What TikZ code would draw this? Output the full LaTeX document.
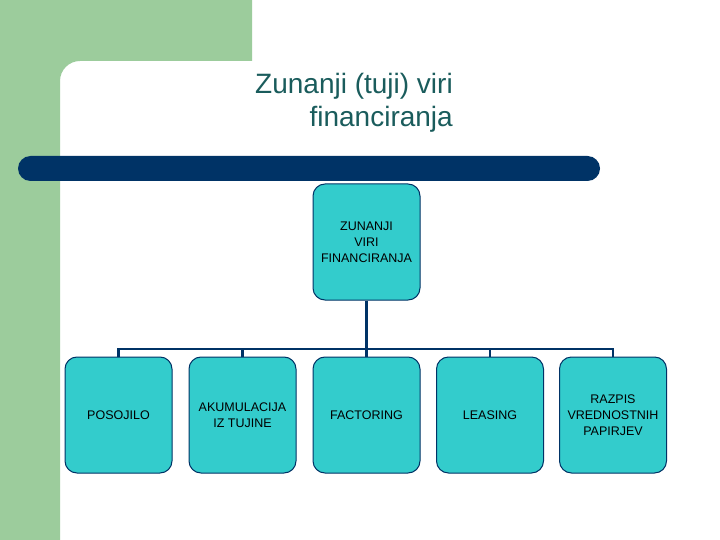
\documentclass[tikz,border=0pt]{standalone}
\usepackage{fontspec}
\setmainfont{Liberation Sans}
\definecolor{gr}{HTML}{9CCC9C}
\definecolor{navy}{HTML}{003366}
\definecolor{teal}{HTML}{33CCCC}
\definecolor{tt}{HTML}{1A5C5C}
\begin{document}
\begin{tikzpicture}[x=1pt,y=-1pt,
 box/.style={draw=navy,line width=1pt,fill=teal,rounded corners=12pt,minimum width=107pt,minimum height=116pt,align=center,inner sep=1pt,font=\fontsize{12.5}{16}\selectfont},
 conn/.style={draw=navy,line width=2.5pt}]
\useasboundingbox (0,0) rectangle (720,540);
\fill[white] (0,0) rectangle (720,540);
\fill[gr] (0,0) -- (252,0) -- (252,61) -- (80,61) arc[start angle=90,end angle=180,radius=20pt] -- (60,540) -- (0,540) -- cycle;
\fill[navy,rounded corners=12.5pt] (18,156) rectangle (600,181);
\node[anchor=north east,align=right,text=tt,font=\fontsize{28}{33}\selectfont,inner sep=0pt] (title) at (453,73) {Zunanji (tuji) viri\\financiranja};
\node[box] (top) at (366.5,242) {ZUNANJI\\VIRI\\FINANCIRANJA};
\node[box] (a) at (118.5,415) {POSOJILO};
\node[box] (b) at (242.5,415) {AKUMULACIJA\\IZ TUJINE};
\node[box] (c) at (366.5,415) {FACTORING};
\node[box] (d) at (490,415) {LEASING};
\node[box] (e) at (613,415) {RAZPIS\\VREDNOSTNIH\\PAPIRJEV};
\coordinate (j) at (366.5,349);
\draw[conn] (top.south) -- (j);
\foreach \n in {a,b,c,d,e}{\draw[conn] (j) -| (\n.north);}
\end{tikzpicture}
\end{document}
